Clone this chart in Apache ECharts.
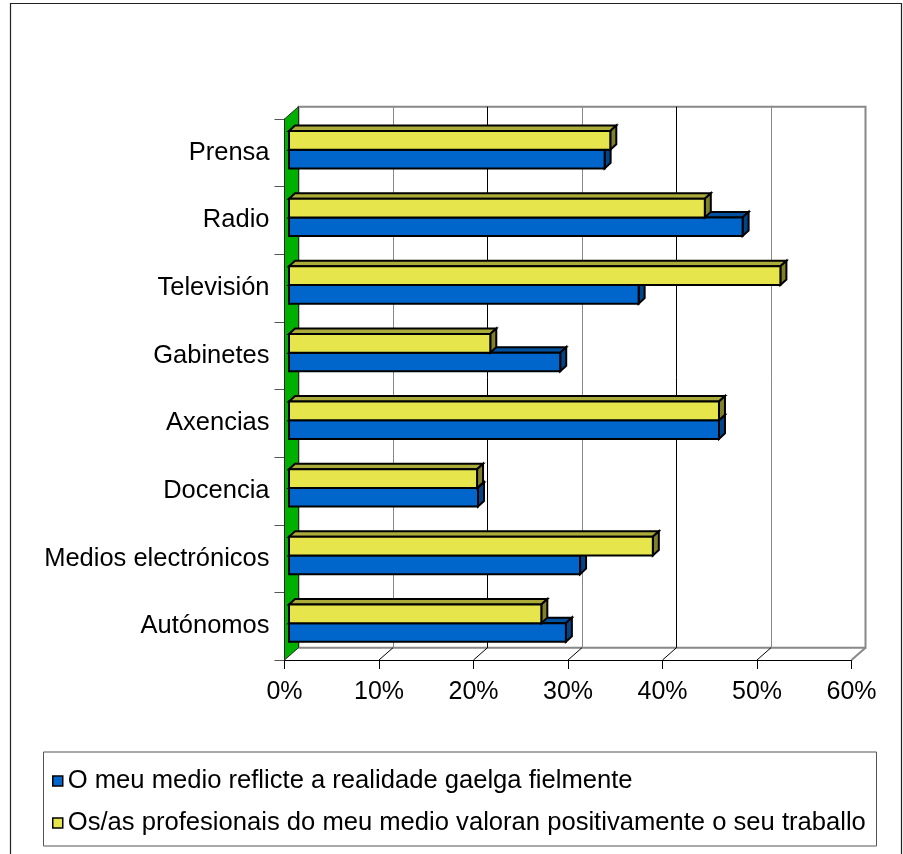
<!DOCTYPE html>
<html>
<head>
<meta charset="utf-8">
<script src="https://cdn.jsdelivr.net/npm/echarts@6/dist/echarts.min.js"></script>
<style>
html,body{margin:0;padding:0;background:#fff;}
#chart{width:903px;height:854px;}
</style>
</head>
<body>
<div id="chart"></div>
<script>
// ---- data ----
const categories = ['Prensa','Radio','Televisión','Gabinetes','Axencias','Docencia','Medios electrónicos','Autónomos'];
const seriesNames = ['O meu medio reflicte a realidade gaelga fielmente','Os/as profesionais do meu medio valoran positivamente o seu traballo'];
const reflicte = [33.4, 48.0, 37.0, 28.7, 45.5, 20.0, 30.8, 29.3];
const valoran  = [34.0, 44.0, 52.0, 21.3, 45.5, 19.9, 38.5, 26.7];
const xTicks = [0, 10, 20, 30, 40, 50, 60];

// ---- style ----
const FONT = 'Liberation Sans, Arial, sans-serif';
const WX = 14, WY = -12.3;      // wall depth offset
const BX = 4.5, BY = -4;        // bar front face offset from front plane
const DX = 6, DY = -5.5;        // bar depth
const blueC = {front:'#0066CC', top:'#0050A0', side:'#00458A'};
const yellC = {front:'#E6E64C', top:'#ABAB3A', side:'#80802B'};

const chart = echarts.init(document.getElementById('chart'), null, {renderer:'canvas'});

function barRender(colors, isYellow) {
  return function (params, api) {
    const idx = api.value(1);
    const val = api.value(0);
    const c = api.coord([0, idx]);
    const e = api.coord([val, idx]);
    const band = api.size([0, 1])[1];
    const yc = c[1] + BY;
    const yt = isYellow ? yc - 0.262 * band : yc + 0.014 * band;
    const yb = isYellow ? yc + 0.014 * band : yc + 0.290 * band;
    const xl = c[0] + BX, xr = e[0] + BX;
    const stroke = {stroke:'#000', lineWidth:2, lineJoin:'miter'};
    return {
      type:'group',
      children:[
        {type:'polygon', shape:{points:[[xl,yt],[xl+DX,yt+DY],[xr+DX,yt+DY],[xr,yt]]}, style:Object.assign({fill:colors.top}, stroke)},
        {type:'polygon', shape:{points:[[xr,yt],[xr+DX,yt+DY],[xr+DX,yb+DY],[xr,yb]]}, style:Object.assign({fill:colors.side}, stroke)},
        {type:'rect', shape:{x:xl, y:yt, width:xr-xl, height:yb-yt}, style:Object.assign({fill:colors.front}, stroke)}
      ]
    };
  };
}

function floorRender(params, api) {
  const v = api.value(0);
  const cs = params.coordSys;
  const x = api.coord([v, 0])[0];
  const bottom = cs.y + cs.height;
  const children = [];
  if (v === 0) {
    children.push({type:'polygon', shape:{points:[[x, cs.y],[x+WX, cs.y+WY],[x+WX, bottom+WY],[x, bottom]]},
      style:{fill:'#00B000', stroke:'#2a2a2a', lineWidth:1}});
  } else if (v === 60) {
    children.push({type:'line', shape:{x1:x, y1:bottom, x2:x+WX, y2:bottom+WY}, style:{stroke:'#888', lineWidth:2}});
  } else {
    children.push({type:'line', shape:{x1:x, y1:bottom, x2:x+WX, y2:bottom+WY}, style:{stroke:'#000', lineWidth:1}});
  }
  return {type:'group', children};
}

const option = {
  backgroundColor:'#ffffff',
  animation:false,
  textStyle:{fontFamily:FONT},
  grid:[
    {left:284.5, top:119, width:567, height:541, containLabel:false},
    {left:298.5, top:106.7, width:567, height:541, show:true, borderColor:'#888', borderWidth:2, backgroundColor:'#fff', z:0}
  ],
  xAxis:[
    {gridIndex:0, type:'value', min:0, max:60, interval:10,
     axisLine:{show:true, lineStyle:{color:'#000', width:1}},
     axisTick:{show:true, length:9, lineStyle:{color:'#000'}},
     splitLine:{show:false},
     axisLabel:{fontSize:25, color:'#000', margin:20, fontFamily:FONT, formatter:v => v + '%'}},
    {gridIndex:1, type:'value', min:0, max:60, interval:10,
     axisLine:{show:false}, axisTick:{show:false}, axisLabel:{show:false},
     splitLine:{show:true, lineStyle:{color:['#888','#888','#000','#888','#000','#888','#888'], width:1}}}
  ],
  yAxis:[
    {gridIndex:0, type:'category', data:categories, inverse:true,
     axisLine:{show:true, lineStyle:{color:'#000'}},
     axisTick:{show:true, length:10, lineStyle:{color:'#555'}},
     axisLabel:{fontSize:25.5, color:'#000', margin:15, fontFamily:FONT}},
    {gridIndex:1, type:'category', data:categories, inverse:true, show:false}
  ],
  legend:{
    orient:'vertical', left:47, top:761, icon:'rect', itemWidth:10, itemHeight:10, itemGap:12,
    selectedMode:false,
    textStyle:{fontSize:25.6, color:'#000', fontFamily:FONT, lineHeight:30},
    data:[
      {name:seriesNames[0], itemStyle:{color:blueC.front, borderColor:'#000', borderWidth:1.5}},
      {name:seriesNames[1], itemStyle:{color:yellC.front, borderColor:'#000', borderWidth:1.5}}
    ]
  },
  graphic:[
    {type:'rect', shape:{x:10.5, y:3.5, width:891, height:880}, style:{fill:'none', stroke:'#222', lineWidth:1.2}, z:-1, silent:true},
    {type:'rect', shape:{x:43.5, y:752, width:833, height:94}, style:{fill:'none', stroke:'#555', lineWidth:1}, z:-1, silent:true}
  ],
  series:[
    {type:'custom', name:'floor', xAxisIndex:0, yAxisIndex:0, z:2, silent:true,
     encode:{x:0, y:1}, data:xTicks.map(v => [v, 0]), renderItem:floorRender, clip:false},
    {type:'custom', name:seriesNames[0], xAxisIndex:0, yAxisIndex:0, z:3,
     itemStyle:{color:blueC.front, borderColor:'#000', borderWidth:1},
     encode:{x:0, y:1}, data:reflicte.map((v,i) => [v, i]), renderItem:barRender(blueC, false), clip:false},
    {type:'custom', name:seriesNames[1], xAxisIndex:0, yAxisIndex:0, z:4,
     itemStyle:{color:yellC.front, borderColor:'#000', borderWidth:1},
     encode:{x:0, y:1}, data:valoran.map((v,i) => [v, i]), renderItem:barRender(yellC, true), clip:false}
  ]
};
chart.setOption(option);
</script>
</body>
</html>
